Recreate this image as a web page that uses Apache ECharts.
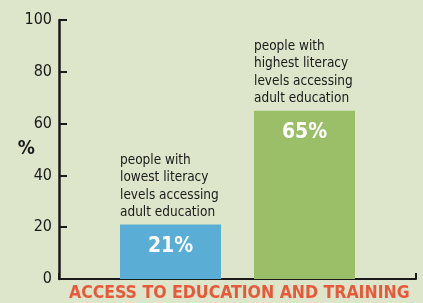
<!DOCTYPE html>
<html>
<head>
<meta charset="utf-8">
<script src="https://cdn.jsdelivr.net/npm/echarts@6/dist/echarts.min.js"></script>
<style>
  html, body { margin: 0; padding: 0; background: #dde6ca; }
  #chart { width: 423px; height: 303px; }
</style>
</head>
<body>
<div id="chart"></div>
<script>
// data
const categories = ['lowest', 'highest'];
const values = [21, 65];
const barColors = ['#5aadd4', '#9bbf69'];
const notes = [
  'people with\nlowest literacy\nlevels accessing\nadult education',
  'people with\nhighest literacy\nlevels accessing\nadult education'
];
const yTicks = [0, 20, 40, 60, 80, 100];

const font = "'Liberation Sans Narrow', 'DejaVu Sans Condensed', 'Noto Sans', sans-serif";

const chart = echarts.init(document.getElementById('chart'));

const option = {
  backgroundColor: '#dde6ca',
  animation: false,
  title: {
    text: 'ACCESS TO EDUCATION AND TRAINING',
    left: 69,
    top: 284,
    padding: 0,
    textStyle: { color: '#e8583a', fontSize: 17.5, fontWeight: 'bold', fontFamily: font }
  },
  grid: [
    // axes frame
    { left: 59, right: 7, top: 20, bottom: 24 },
    // bars
    { left: 103.5, right: 51.5, top: 20, bottom: 24 }
  ],
  xAxis: [
    {
      gridIndex: 0, type: 'value', min: 0, max: 1, interval: 1,
      axisLine: { show: true, lineStyle: { color: '#1a1a1a', width: 2 } },
      axisTick: { show: true, inside: true, length: 6, lineStyle: { color: '#1a1a1a', width: 2 } },
      axisLabel: { show: false },
      splitLine: { show: false }
    },
    {
      gridIndex: 1, type: 'category', data: categories,
      axisLine: { show: false }, axisTick: { show: false }, axisLabel: { show: false }
    }
  ],
  yAxis: [
    {
      gridIndex: 0, type: 'value', min: yTicks[0], max: yTicks[yTicks.length - 1], interval: 20,
      name: '%', nameLocation: 'middle', nameRotate: 0, nameGap: 24, nameMoveOverlap: false,
      nameTextStyle: { color: '#1a1a1a', fontSize: 19, fontWeight: 'bold', fontFamily: font, padding: [12, 0, 0, 0] },
      axisLine: { show: true, lineStyle: { color: '#1a1a1a', width: 2.5 } },
      axisTick: { show: true, inside: true, length: 8, lineStyle: { color: '#1a1a1a', width: 2 } },
      axisLabel: { color: '#1a1a1a', fontSize: 16, margin: 7, fontFamily: font },
      splitLine: { show: false }
    },
    {
      gridIndex: 1, type: 'value', min: 0, max: 100, show: false
    }
  ],
  series: [
    {
      type: 'bar', xAxisIndex: 1, yAxisIndex: 1, barWidth: 101,
      data: values.map((v, i) => ({ value: v, itemStyle: { color: barColors[i] } })),
      label: {
        show: true, position: ['50%', 22], align: 'center', verticalAlign: 'middle',
        formatter: '{c}%', color: '#ffffff', fontSize: 21, fontWeight: 'bold', fontFamily: font
      },
      z: 3
    },
    {
      type: 'bar', xAxisIndex: 1, yAxisIndex: 1, barWidth: 101, barGap: '-100%',
      data: values,
      itemStyle: { color: 'rgba(0,0,0,0)' },
      label: {
        show: true, position: [0, -3], align: 'left', verticalAlign: 'bottom',
        formatter: p => notes[p.dataIndex],
        color: '#1a1a1a', fontSize: 13.5, lineHeight: 17.5, fontFamily: font
      },
      z: 4
    }
  ]
};

chart.setOption(option);
</script>
</body>
</html>
